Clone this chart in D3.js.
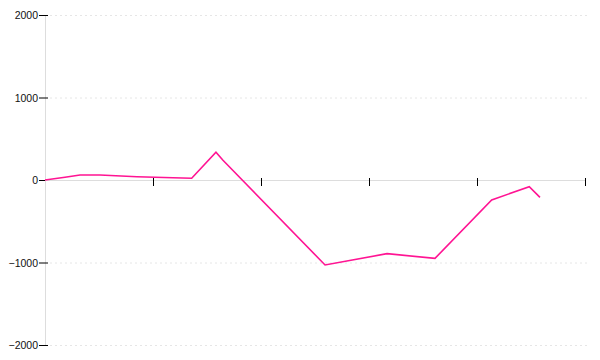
<!DOCTYPE html>
<html><head><meta charset="utf-8">
<script src="https://cdn.jsdelivr.net/npm/d3@7"></script>
<style>body{margin:0;background:#fff;}svg{display:block;}</style>
</head><body>
<svg id="c" width="600" height="360"></svg>
<script>
const xValues = [0, 1.85, 3.24, 5.09, 8.52, 11.85, 13.58, 15.83, 16.48, 25.93, 31.67, 36.11, 41.36, 44.84, 45.83];
const yValues = [0, 33, 60, 60, 40, 28, 21, 337, 240, -1030, -893, -950, -242, -81, -210];
const yTicks = [-2000, -1000, 0, 1000, 2000];
const xTicks = [0, 10, 20, 30, 40, 50];

const svg = d3.select("#c");
const x = d3.scaleLinear().domain([0, 50]).range([45, 585]);
const y = d3.scaleLinear().domain([-2000, 2000]).range([345, 15]);

// grid
svg.append("g").selectAll("line").data(yTicks.filter(d => d !== 0)).join("line")
  .attr("x1", x(0) + 5).attr("x2", x(50) + 5)
  .attr("y1", d => y(d) + 0.5).attr("y2", d => y(d) + 0.5)
  .attr("stroke", "#e6e6e6").attr("stroke-dasharray", "2,3");

// y axis line
svg.append("line").attr("x1", x(0) + 0.5).attr("x2", x(0) + 0.5)
  .attr("y1", y(2000)).attr("y2", y(-2000))
  .attr("stroke", "#ddd");

// y ticks
svg.append("g").selectAll("line").data(yTicks).join("line")
  .attr("x1", x(0) - 6).attr("x2", x(0) + 3)
  .attr("y1", d => y(d) + 0.5).attr("y2", d => y(d) + 0.5)
  .attr("stroke", "#000");
svg.append("g").selectAll("text").data(yTicks).join("text")
  .attr("x", x(0) - 7).attr("y", d => y(d) + 4)
  .attr("text-anchor", "end")
  .attr("font-family", "Liberation Sans, Arial, sans-serif")
  .attr("font-size", "10.5px").attr("fill", "#111")
  .text(d => d < 0 ? "\u2212" + Math.abs(d) : d);

// zero axis line
svg.append("line").attr("x1", x(0)).attr("x2", x(50))
  .attr("y1", y(0) + 0.5).attr("y2", y(0) + 0.5)
  .attr("stroke", "#ddd");

// x ticks
svg.append("g").selectAll("line").data(xTicks).join("line")
  .attr("x1", d => x(d) + 0.5).attr("x2", d => x(d) + 0.5)
  .attr("y1", y(0) - 2).attr("y2", y(0) + 6)
  .attr("stroke", "#000");

// re-draw axis line over ticks
svg.append("line").attr("x1", x(0) + 0.5).attr("x2", x(0) + 0.5)
  .attr("y1", y(0) - 8).attr("y2", y(0) + 8)
  .attr("stroke", "#ddd");

// line
const data = xValues.map((d, i) => [d, yValues[i]]);
svg.append("path").datum(data)
  .attr("fill", "none").attr("stroke", "#ff1493").attr("stroke-width", 1.6)
  .attr("stroke-linejoin", "miter")
  .attr("d", d3.line().x(d => x(d[0])).y(d => y(d[1])));
</script>
</body></html>
